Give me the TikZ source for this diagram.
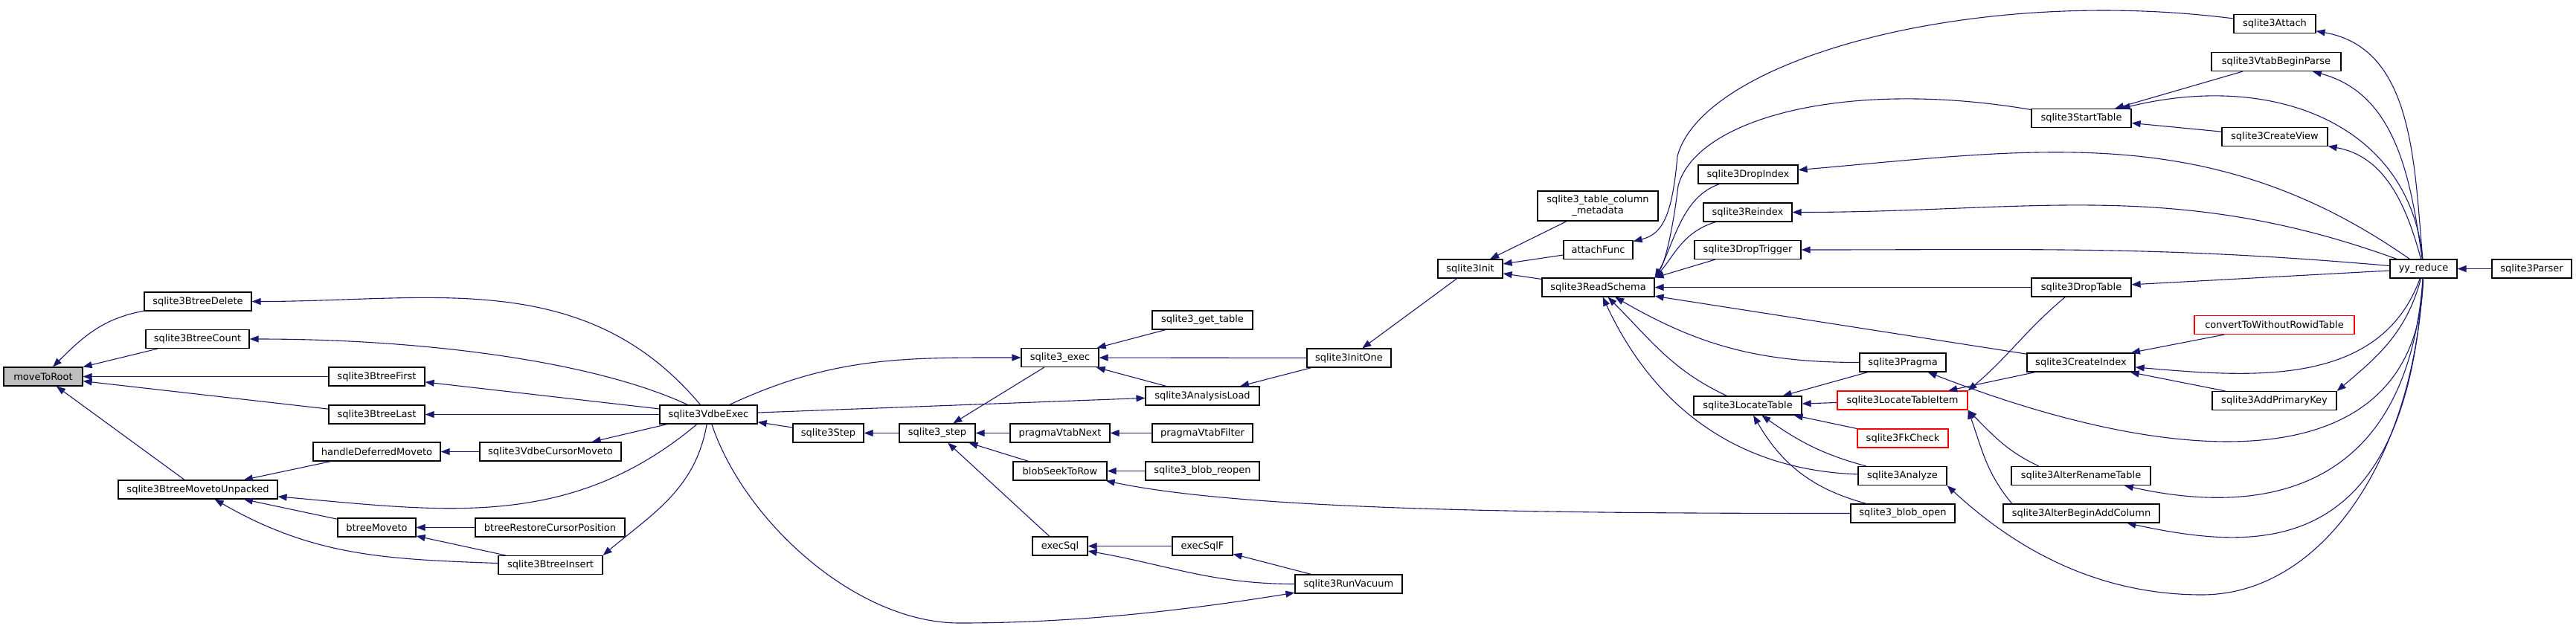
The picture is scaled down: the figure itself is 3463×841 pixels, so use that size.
\documentclass[tikz,border=0pt]{standalone}
\usepackage{fontspec}
\setmainfont{DejaVu Sans}
\usetikzlibrary{arrows.meta}
\definecolor{edgeblue}{HTML}{191970}

\begin{document}
\begin{tikzpicture}[x=1pt,y=-1pt,
  fn/.style={draw=black,line width=1.2pt,fill=white,minimum height=25pt,inner sep=0pt,font=\fontsize{13}{15}\selectfont},
  rootfn/.style={fn,fill=black!25},
  redfn/.style={fn,draw=red},
  call/.style={draw=edgeblue,line width=1.1pt,-{Triangle[length=12pt,width=9pt]}}]
\useasboundingbox (0,0) rectangle (3463,841);

\node[rootfn,minimum width=106] (root) at (58,506.5) {moveToRoot};
\node[fn,minimum width=144] (bdel) at (266,405.5) {sqlite3BtreeDelete};
\node[fn,minimum width=139] (bcnt) at (265.5,456) {sqlite3BtreeCount};
\node[fn,minimum width=214] (bmu) at (266,658.5) {sqlite3BtreeMovetoUnpacked};
\node[fn,minimum width=129] (bfirst) at (506.5,506.5) {sqlite3BtreeFirst};
\node[fn,minimum width=129] (blast) at (506.5,557.5) {sqlite3BtreeLast};
\node[fn,minimum width=171] (hdm) at (506.5,607.5) {handleDeferredMoveto};
\node[fn,minimum width=105] (bmv) at (506.5,709.5) {btreeMoveto};
\node[fn,minimum width=190] (vcm) at (740,607.5) {sqlite3VdbeCursorMoveto};
\node[fn,minimum width=201] (brc) at (739.5,709.5) {btreeRestoreCursorPosition};
\node[fn,minimum width=140] (bins) at (740,760) {sqlite3BtreeInsert};
\node[fn,minimum width=131] (vexec) at (952.5,557.5) {sqlite3VdbeExec};
\node[fn,minimum width=95] (step) at (1113.5,582.5) {sqlite3Step};
\node[fn,minimum width=102] (ustep) at (1260,582.5) {sqlite3\_step};
\node[fn,minimum width=104] (exec) at (1425,481) {sqlite3\_exec};
\node[fn,minimum width=134] (pvnext) at (1425,582.5) {pragmaVtabNext};
\node[fn,minimum width=126] (bstr) at (1425,633.5) {blobSeekToRow};
\node[fn,minimum width=74] (esql) at (1425,734.5) {execSql};
\node[fn,minimum width=135] (gtab) at (1616.5,430.5) {sqlite3\_get\_table};
\node[fn,minimum width=153] (aload) at (1616.5,532.5) {sqlite3AnalysisLoad};
\node[fn,minimum width=135] (pvfilt) at (1616.5,582.5) {pragmaVtabFilter};
\node[fn,minimum width=153] (breo) at (1616.5,633.5) {sqlite3\_blob\_reopen};
\node[fn,minimum width=81] (esqlf) at (1616.5,734.5) {execSqlF};
\node[fn,minimum width=113] (initone) at (1813.5,481.5) {sqlite3InitOne};
\node[fn,minimum width=144] (vac) at (1813,785.5) {sqlite3RunVacuum};
\node[fn,minimum width=87] (init) at (1976.5,361.5) {sqlite3Init};
\node[fn,minimum width=162,minimum height=40,align=center] (tcm) at (2148,277) {sqlite3\_table\_column\\\_metadata};
\node[fn,minimum width=93] (afunc) at (2148.5,336) {attachFunc};
\node[fn,minimum width=151] (rschema) at (2148.5,386.5) {sqlite3ReadSchema};
\node[fn,minimum width=134] (dropidx) at (2350,234.5) {sqlite3DropIndex};
\node[fn,minimum width=119] (reidx) at (2349.5,285.5) {sqlite3Reindex};
\node[fn,minimum width=143] (droptrg) at (2349.5,336) {sqlite3DropTrigger};
\node[fn,minimum width=145] (loctab) at (2349.5,545.5) {sqlite3LocateTable};
\node[fn,minimum width=116] (pragma) at (2558,487.5) {sqlite3Pragma};
\node[redfn,minimum width=175] (locitem) at (2557.5,538.5) {sqlite3LocateTableItem};
\node[redfn,minimum width=122] (fk) at (2558,589.5) {sqlite3FkCheck};
\node[fn,minimum width=119] (analyze) at (2557.5,640) {sqlite3Analyze};
\node[fn,minimum width=140] (bopen) at (2558,690.5) {sqlite3\_blob\_open};
\node[fn,minimum width=134] (start) at (2798,159) {sqlite3StartTable};
\node[fn,minimum width=134] (droptab) at (2798,386.5) {sqlite3DropTable};
\node[fn,minimum width=145] (cridx) at (2797.5,487.5) {sqlite3CreateIndex};
\node[fn,minimum width=187] (arename) at (2797.5,640) {sqlite3AlterRenameTable};
\node[fn,minimum width=210] (addcol) at (2798,690.5) {sqlite3AlterBeginAddColumn};
\node[fn,minimum width=110] (attach) at (3058,32) {sqlite3Attach};
\node[fn,minimum width=174] (vtab) at (3060,83) {sqlite3VtabBeginParse};
\node[fn,minimum width=142] (cview) at (3058,184) {sqlite3CreateView};
\node[redfn,minimum width=215] (convert) at (3057.5,437) {convertToWithoutRowidTable};
\node[fn,minimum width=167] (addpk) at (3057.5,539) {sqlite3AddPrimaryKey};
\node[fn,minimum width=90] (yyr) at (3258,361.5) {yy\_reduce};
\node[fn,minimum width=107] (parser) at (3403.5,361.5) {sqlite3Parser};

\foreach \a/\b in {bcnt/root,bfirst/root,blast/root,bmu/root,
    vexec/bfirst,vexec/blast,vexec/vcm,vcm/hdm,hdm/bmu,bmv/bmu,brc/bmv,bins/bmv,
    step/vexec,ustep/step,exec/ustep,pvnext/ustep,bstr/ustep,esql/ustep,
    vexec/aload,gtab/exec,initone/exec,aload/exec,initone/aload,
    pvfilt/pvnext,breo/bstr,esqlf/esql,vac/esqlf,
    init/initone,tcm/init,afunc/init,rschema/init,droptab/rschema,cridx/rschema,
    pragma/loctab,locitem/loctab,fk/loctab,cridx/locitem,
    vtab/start,cview/start,convert/cridx,addpk/cridx,yyr/droptab,parser/yyr}
  \draw[call] (\a) -- (\b);

% left part
\draw[call] (bdel) to[out=190,in=45] (root);
\draw[call] (vexec) to[out=130,in=0] (bdel);
\draw[call] (vexec) to[out=155,in=0,out looseness=0.6] (bcnt);
\draw[call] (vexec) to[out=-140,in=-5] (bmu);
\draw[call] (vexec) to[out=-100,in=40] (bins.north east);
\draw[call] (bins) to[out=178,in=-30] (bmu);
\draw[call] (vexec) to[out=25,in=180] (exec);
\draw[call] (vexec) .. controls (1000,700) and (1150,838) .. (1290,838)
  .. controls (1450,838) and (1600,820) .. (vac);
\draw[call] (bopen) to[out=180,in=-12,in looseness=0.5] (bstr);
\draw[call] (vac) to[out=180,in=-10] (esql);

% schema part
\draw[call] (attach) .. controls (2650,-20) and (2290,80) .. (2255,210)
  .. controls (2248,290) and (2235,315) .. (afunc);
\draw[call] (start) .. controls (2480,105) and (2280,160) .. (2256,250)
  .. controls (2250,300) and (2240,350) .. (rschema.north east);
\draw[call] (dropidx) .. controls (2260,265) and (2250,330) .. (rschema.north east);
\draw[call] (reidx) .. controls (2262,312) and (2250,345) .. (rschema.north east);
\draw[call] (droptrg) -- (rschema.north east);
\draw[call] (pragma) to[out=180,in=-30] (rschema);
\draw[call] (loctab) to[out=155,in=-45] (rschema);
\draw[call] (analyze) to[out=178,in=-65] (rschema);
\draw[call] (analyze) to[out=165,in=-35] (loctab);
\draw[call] (bopen) to[out=165,in=-60] (loctab);
\draw[call] (droptab.-149) to[out=-140,in=40] (locitem.north east);
\draw[call] (arename.167) to[out=155,in=-45] (locitem.south east);
\draw[call] (addcol.172) to[out=130,in=-70] (locitem.south east);

% yy_reduce fan
\draw[call] (yyr) to[out=95,in=-10] (attach);
\draw[call] (yyr) to[out=98,in=-15] (vtab);
\draw[call] (yyr) .. controls (3240,170) and (3060,95) .. (start);
\draw[call] (yyr) to[out=105,in=-10] (cview);
\draw[call] (yyr) to[out=145,in=5] (dropidx);
\draw[call] (yyr) to[out=160,in=0] (reidx);
\draw[call] (yyr) to[out=175,in=0] (droptrg);
\draw[call] (yyr) to[out=-110,in=-5] (cridx);
\draw[call] (yyr) to[out=-105,in=40] (addpk.north east);
\draw[call] (yyr) .. controls (3250,640) and (2950,640) .. (pragma);
\draw[call] (yyr) .. controls (3235,680) and (3020,690) .. (arename);
\draw[call] (yyr) .. controls (3235,760) and (3030,740) .. (addcol);
\draw[call] (yyr) .. controls (3245,620) and (3120,800) .. (2960,800)
  .. controls (2800,800) and (2690,720) .. (analyze.south east);
\end{tikzpicture}
\end{document}
